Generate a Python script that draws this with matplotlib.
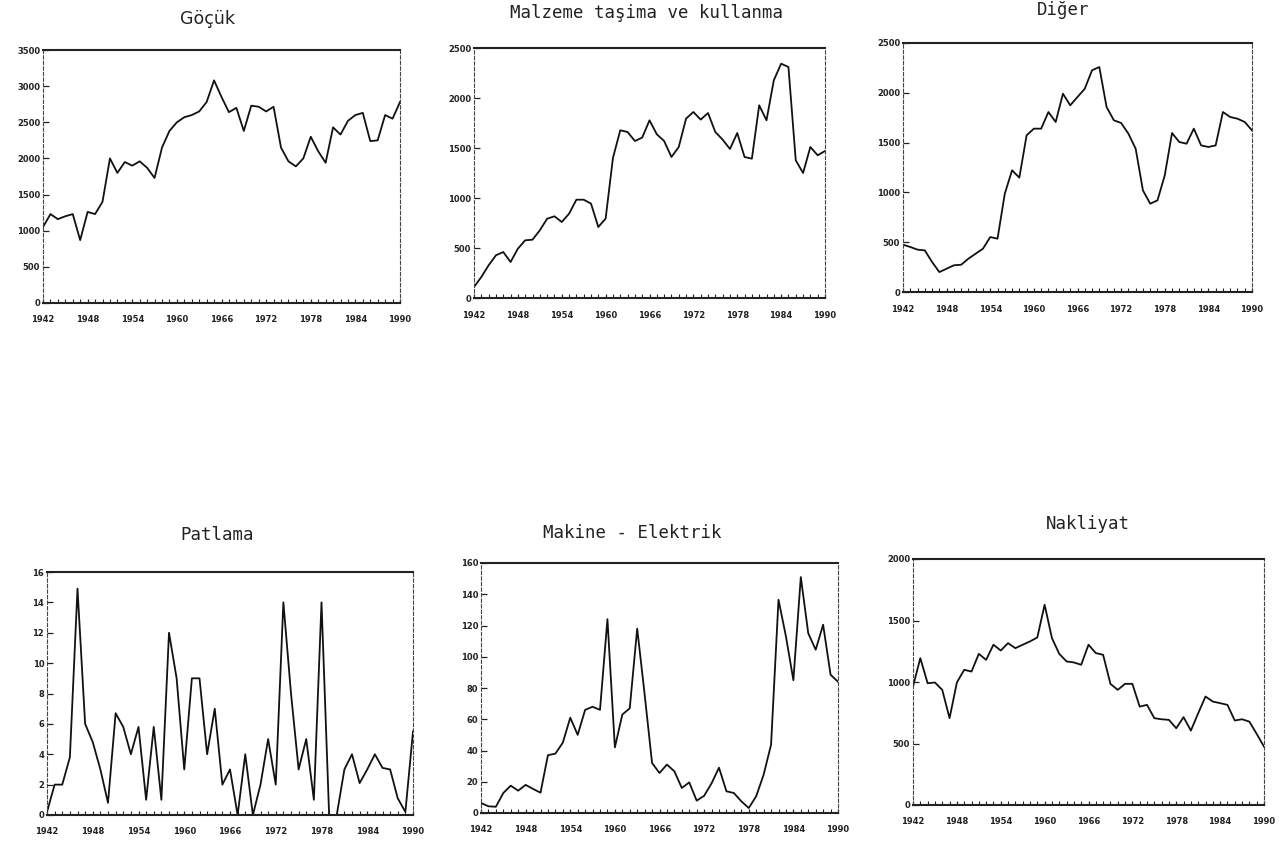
import matplotlib
matplotlib.use("Agg")
import matplotlib.pyplot as plt
import numpy as np

W, H = 1281, 842

years = np.arange(1942, 1991)
year_labels = [1942, 1948, 1954, 1960, 1966, 1972, 1978, 1984, 1990]

gocuk = [1050, 1230, 1160, 1200, 1230, 870, 1260, 1230, 1400, 2000,
         1800, 1950, 1900, 1960, 1870, 1730, 2150, 2380, 2500, 2570,
         2600, 2650, 2780, 3080, 2850, 2640, 2700, 2380, 2730, 2715,
         2650, 2715, 2150, 1960, 1890, 2000, 2300, 2100, 1940, 2430,
         2330, 2520, 2600, 2630, 2240, 2250, 2600, 2550, 2780]

malzeme = [110, 210, 327, 427, 460, 360, 493, 577, 583, 677,
           793, 817, 760, 843, 983, 983, 944, 710, 794, 1400,
           1677, 1660, 1570, 1604, 1777, 1637, 1570, 1410, 1510, 1794,
           1860, 1784, 1850, 1660, 1584, 1490, 1650, 1410, 1393, 1927,
           1777, 2177, 2343, 2310, 1377, 1250, 1510, 1427, 1470]

diger = [475, 452, 425, 418, 301, 200, 234, 268, 274, 335,
         385, 435, 552, 535, 987, 1222, 1148, 1573, 1640, 1640,
         1807, 1707, 1991, 1874, 1958, 2041, 2226, 2259, 1857, 1724,
         1697, 1590, 1439, 1020, 887, 920, 1171, 1596, 1506, 1489,
         1640, 1472, 1456, 1472, 1807, 1757, 1740, 1707, 1623]

patlama = [0.2, 2, 2, 3.8, 14.9, 6, 4.8, 3, 0.8, 6.7,
           5.8, 4, 5.8, 1, 5.8, 1, 12, 9, 3, 9,
           9, 4, 7, 2, 3, 0, 4, 0, 2, 5,
           2, 14, 8, 3, 5, 1, 14, 0, 0, 3,
           4, 2.1, 3, 4, 3.1, 3, 1.1, 0.2, 5.5]

makine = [6.4, 4.3, 4, 12.8, 17.5, 14.3, 18, 15.4, 13, 37,
          38, 45, 61, 50, 66, 68, 66, 124, 42, 63,
          67, 118, 76, 32, 25.6, 31, 26.7, 16, 19.6, 7.9,
          11, 19, 29, 13.9, 12.8, 7.5, 3.2, 10.7, 24.5, 43.7,
          136.5, 113, 85, 151, 115, 104.5, 120.5, 88.5, 84]

nakliyat = [963, 1194, 990, 996, 936, 706, 996, 1099, 1085, 1229,
            1180, 1303, 1256, 1316, 1275, 1303, 1330, 1362, 1628, 1357,
            1229, 1167, 1159, 1140, 1303, 1235, 1221, 985, 936, 985,
            985, 800, 814, 706, 697, 692, 624, 714, 605, 746,
            882, 841, 828, 814, 687, 697, 678, 578, 475]

# title, values, ymax, ystep, (x_left, x_right, y_top, y_bottom) in px, title pos
panels = [
    ("Göçük", gocuk, 3500, 500, (43, 400, 50, 303), (207, 19)),
    ("Malzeme taşima ve kullanma", malzeme, 2500, 500, (474, 825, 48, 298), (647, 13)),
    ("Diğer", diger, 2500, 500, (903, 1252, 43, 292), (1063, 10)),
    ("Patlama", patlama, 16, 2, (47, 413, 572, 815), (217, 535)),
    ("Makine - Elektrik", makine, 160, 20, (481, 838, 563, 813), (632, 533)),
    ("Nakliyat", nakliyat, 2000, 500, (913, 1264, 559, 805), (1088, 524)),
]

fig = plt.figure(figsize=(W / 100, H / 100), dpi=100)
fig.patch.set_facecolor("white")

for title, values, ymax, ystep, (x0, x1, yt, yb), (tx, ty) in panels:
    ax = fig.add_axes([x0 / W, 1 - yb / H, (x1 - x0) / W, (yb - yt) / H])
    ax.plot(years, values, color="#111111", lw=1.3)
    ax.set_xlim(1942, 1990)
    ax.set_ylim(0, ymax)
    ax.set_yticks(np.arange(0, ymax + 1, ystep))
    ax.set_xticks(year_labels)
    ax.set_xticks(years, minor=True)
    ax.tick_params(axis="both", which="both", direction="in", color="#222222")
    ax.tick_params(axis="y", which="major", length=4, width=0.9, pad=2,
                   labelsize=6)
    ax.tick_params(axis="x", which="major", length=3, width=0.9, pad=9,
                   labelsize=6)
    ax.tick_params(axis="x", which="minor", length=3, width=0.8)
    for lab in ax.get_xticklabels() + ax.get_yticklabels():
        lab.set_fontweight("bold")
        lab.set_color("#222222")
    for side in ("top", "bottom"):
        ax.spines[side].set_linewidth(1.5)
        ax.spines[side].set_color("#222222")
    for side in ("left", "right"):
        ax.spines[side].set_linewidth(0.8)
        ax.spines[side].set_linestyle((0, (3, 2)))
        ax.spines[side].set_color("#444444")
    fam = "DejaVu Sans" if title == "Göçük" else "DejaVu Sans Mono"
    fig.text(tx / W, 1 - ty / H, title, ha="center", va="center",
             fontsize=12.5, family=fam, color="#222222")

fig.savefig("out.png", dpi=100, facecolor="white")
